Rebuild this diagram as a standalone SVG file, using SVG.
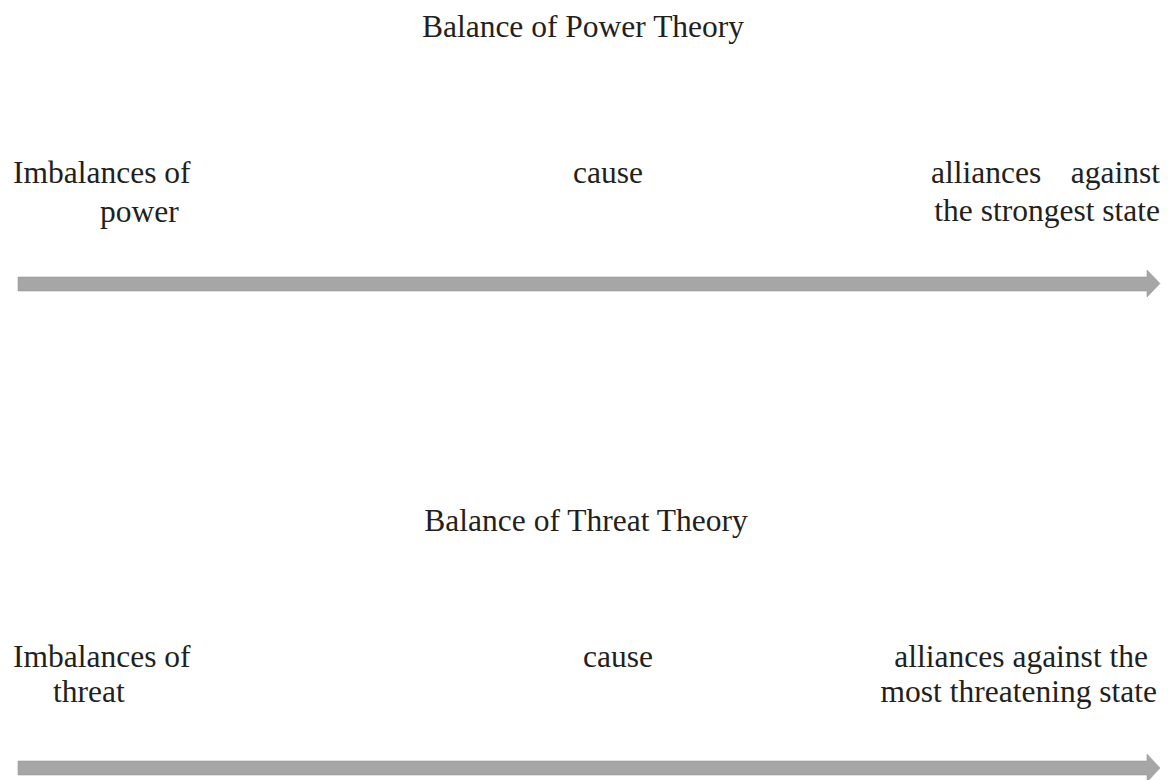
<svg xmlns="http://www.w3.org/2000/svg" width="1168" height="780" viewBox="0 0 1168 780">
<style>
text{font-family:"Liberation Serif","Times New Roman",serif;font-size:31.5px;fill:#231f20}
.arr{fill:#a6a6a6;stroke:#9a9a9a;stroke-width:0.6}
</style>
<rect width="1168" height="780" fill="#fff"/>
<g id="title-power"><text x="583" y="37" text-anchor="middle">Balance of Power Theory</text></g>
<g id="cause-power-src"><text x="13" y="183">Imbalances of</text><text x="100" y="222">power</text></g>
<g id="cause-power-verb"><text x="573" y="183">cause</text></g>
<g id="cause-power-dst"><text x="931" y="183">alliances</text><text x="1160" y="183" text-anchor="end">against</text><text x="1160" y="221" text-anchor="end">the strongest state</text></g>
<g id="title-threat"><text x="586" y="531" text-anchor="middle">Balance of Threat Theory</text></g>
<g id="cause-threat-src"><text x="13" y="667">Imbalances of</text><text x="53" y="702">threat</text></g>
<g id="cause-threat-verb"><text x="583" y="667">cause</text></g>
<g id="cause-threat-dst"><text x="1148" y="667" text-anchor="end">alliances against the</text><text x="1157" y="702" text-anchor="end">most threatening state</text></g>
<g id="connectors">
<path class="arr" d="M18,277 H1147 V270 L1160,283.5 L1147,297 V291 H18 Z"/>
<path class="arr" d="M18,761 H1147 V754 L1160,768 L1147,782 V775 H18 Z"/>
</g>
</svg>
